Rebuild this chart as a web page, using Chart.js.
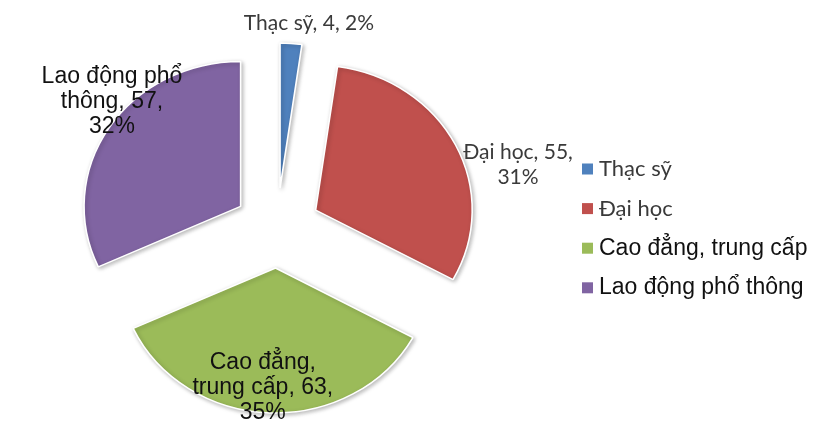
<!DOCTYPE html>
<html><head><meta charset="utf-8">
<script src="https://cdn.jsdelivr.net/npm/chart.js@4.4.0/dist/chart.umd.min.js"></script>
<style>html,body{margin:0;padding:0;background:#fff;}</style>
</head><body>
<canvas id="c" width="814" height="441" style="display:block;width:814px;height:441px"></canvas>
<script>
const categories = ['Thạc sỹ', 'Đại học', 'Cao đẳng, trung cấp', 'Lao động phổ thông'];
const values = [4, 55, 63, 57];
const colors = ['#4F81BD', '#C0504D', '#9BBB59', '#8064A2'];

// styling (not data)
const FONT_CAL = 'Lato, "Open Sans", sans-serif';
const FONT_ARIAL = '"Liberation Sans", Arial, sans-serif';
const labelFonts = [FONT_CAL, FONT_CAL, FONT_ARIAL, FONT_ARIAL];
const labelColors = ['#3a3a3a', '#3a3a3a', '#111', '#111'];
const labelSizes = [21, 21, 23, 23];
const wrapWidths = [300, 125, 158, 148];
const labelAngleShift = [4.2, 10.8, 2.7, 6.8];  // degrees from slice mid-angle
const labelDist = [207, 232, 160, 198];         // px from pie centre
const RADIUS = 145, EXPLODE = 40, STRETCH = 1.08;

const total = values.reduce((a, b) => a + b, 0);

function wrap(ctx, text, maxW) {
  const words = text.split(' ');
  const lines = [];
  let cur = '';
  for (const w of words) {
    const t = cur ? cur + ' ' + w : w;
    if (ctx.measureText(t).width > maxW && cur) { lines.push(cur); cur = w; }
    else cur = t;
  }
  if (cur) lines.push(cur);
  return lines;
}

// Keep every exploded slice at the true radius and true angular span
const fixPlugin = {
  id: 'fix',
  afterDatasetsUpdate(chart) {
    const meta = chart.getDatasetMeta(0);
    meta.data.forEach(a => {
      const off = (a.options.offset || 0) / 4;
      const fix = 1 - Math.sin(Math.min(Math.PI, a.circumference || 0));
      const ro = off * fix;
      a.outerRadius = RADIUS - ro;
      const ao = (ro / Math.PI) / RADIUS / 2;
      a.startAngle -= ao;
      a.endAngle += ao;
    });
  },
  beforeDatasetsDraw(chart) {
    const ctx = chart.ctx;
    const a = chart.getDatasetMeta(0).data[0];
    ctx.save();
    ctx.translate(a.x, 0);
    ctx.scale(STRETCH, 1);
    ctx.translate(-a.x, 0);
    ctx.shadowColor = 'rgba(0,0,0,0.28)';
    ctx.shadowBlur = 4;
    ctx.shadowOffsetX = 1.5;
    ctx.shadowOffsetY = 1.5;
  },
  afterDatasetsDraw(chart) {
    chart.ctx.restore();
  }
};

const labelPlugin = {
  id: 'labels',
  afterDraw(chart) {
    const ctx = chart.ctx;
    const meta = chart.getDatasetMeta(0);
    meta.data.forEach((a, i) => {
      const mid = (a.startAngle + a.endAngle) / 2 + labelAngleShift[i] * Math.PI / 180;
      const x = a.x + Math.cos(mid) * labelDist[i] * STRETCH;
      const y = a.y + Math.sin(mid) * labelDist[i];
      const pct = Math.round(values[i] / total * 100);
      const text = categories[i] + ', ' + values[i] + ', ' + pct + '%';
      ctx.save();
      ctx.font = labelSizes[i] + 'px ' + labelFonts[i];
      ctx.fillStyle = labelColors[i];
      ctx.textAlign = 'center';
      ctx.textBaseline = 'middle';
      const lines = wrap(ctx, text, wrapWidths[i]);
      const lh = 25;
      const y0 = y - (lines.length - 1) * lh / 2;
      lines.forEach((l, k) => ctx.fillText(l, x, y0 + k * lh));
      ctx.restore();
    });
    // legend
    const lx = 582, ly = 169, step = 39.6;
    categories.forEach((c, i) => {
      const yy = ly + i * step;
      ctx.save();
      ctx.fillStyle = colors[i];
      ctx.fillRect(lx, yy - 5.5, 11, 11);
      ctx.font = (i < 2 ? 22 : 23) + 'px ' + labelFonts[i];
      ctx.fillStyle = labelColors[i];
      ctx.textAlign = 'left';
      ctx.textBaseline = 'middle';
      ctx.fillText(c, lx + 17, yy);
      ctx.restore();
    });
  }
};

new Chart(document.getElementById('c'), {
  type: 'pie',
  data: {
    labels: categories,
    datasets: [{
      data: values,
      backgroundColor: colors,
      borderColor: '#ffffff',
      borderWidth: 1.5,
      offset: EXPLODE * 4,
      hoverOffset: 0
    }]
  },
  options: {
    responsive: false,
    animation: false,
    devicePixelRatio: 1,
    radius: RADIUS,
    layout: { padding: { left: 0, right: 260, top: 15, bottom: 0 } },
    plugins: { legend: { display: false }, tooltip: { enabled: false } },
    events: []
  },
  plugins: [fixPlugin, labelPlugin]
});
</script>
</body></html>
